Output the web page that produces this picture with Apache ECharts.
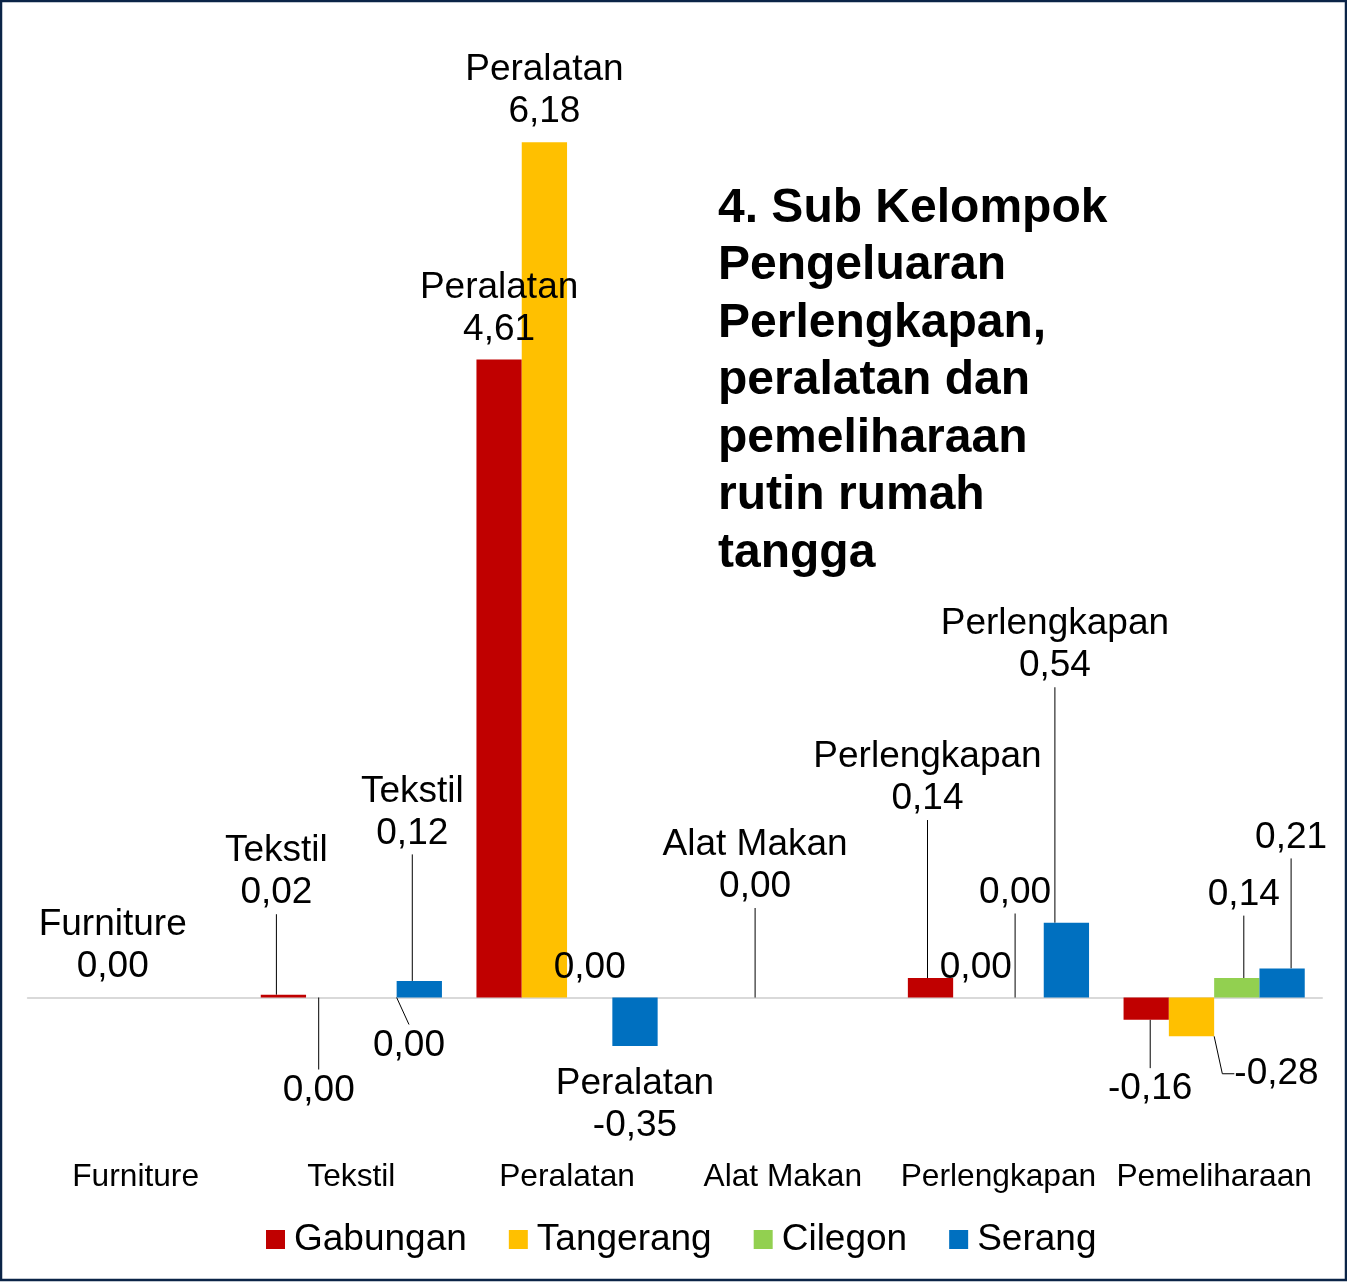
<!DOCTYPE html>
<html><head><meta charset="utf-8">
<script src="https://cdn.jsdelivr.net/npm/echarts@6/dist/echarts.min.js"></script>
<style>html,body{margin:0;padding:0;background:#fff}#c{width:1347px;height:1282px}</style>
</head><body><div id="c"></div>
<script>
const categories = ['Furniture', 'Tekstil', 'Peralatan', 'Alat Makan', 'Perlengkapan', 'Pemeliharaan'];
const seriesNames = ['Gabungan', 'Tangerang', 'Cilegon', 'Serang'];
const gabungan = [0.00, 0.02, 4.61, 0.00, 0.14, -0.16];
const tangerang = [0.00, 0.00, 6.18, 0.00, 0.00, -0.28];
const cilegon = [0.00, 0.00, 0.00, 0.00, 0.00, 0.14];
const serang = [0.00, 0.12, -0.35, 0.00, 0.54, 0.21];
// label content: 'cv' = category + value, 'v' = value only, '' = no label
const labelGabungan = ['cv', 'cv', 'cv', '', 'cv', 'v'];
const labelTangerang = ['', 'v', 'cv', 'cv', 'v', 'v'];
const labelCilegon = ['', 'v', 'v', '', 'v', 'v'];
const labelSerang = ['', 'cv', 'cv', '', 'cv', 'v'];
const titleText = '4. Sub Kelompok\nPengeluaran\nPerlengkapan,\nperalatan dan\npemeliharaan\nrutin rumah\ntangga';

const FONT = '"Liberation Sans", Arial, Helvetica, sans-serif';
const colors = ['#C00000', '#FFC000', '#92D050', '#0070C0'];
const values = [gabungan, tangerang, cilegon, serang];
const kinds = [labelGabungan, labelTangerang, labelCilegon, labelSerang];
// label placement style: [dx, dy, showLeaderLine, length2] relative to bar end
const labelPos = [
  [[45, -54, 0], [-7, -125, 1], [0, -53.5, 0], null, [-3, -202.6, 1], [4, 67, 1]],
  [null, [-10, 90.5, 1], [0, -54, 0], [-5, -134, 1], [0, -32.5, 0], [85, 35, 1, 12]],
  [null, [35, 45.5, 1], [0, -32.5, 0], null, [-6, -107.5, 1], [7, -86, 1]],
  [null, [-7, -171, 1], [0, 56, 0], null, [-11.5, -280, 1], [9, -133.5, 1]]
];
const LABEL_SHIFT_Y = 2.5;

function fmt(v) { return v.toFixed(2).replace('.', ','); }

const series = seriesNames.map(function (name, s) {
  return {
    name: name,
    type: 'bar',
    xAxisIndex: 0,
    barGap: '0%',
    barCategoryGap: '16%',
    itemStyle: { color: colors[s] },
    data: values[s].map(function (v, c) {
      const k = kinds[s][c];
      const pos = labelPos[s][c];
      return {
        value: v,
        label: {
          show: !!k,
          formatter: k === 'cv' ? categories[c] + '\n' + fmt(v) : fmt(v)
        },
        labelLine: {
          show: !!(pos && pos[2]),
          length2: pos && pos[3] ? pos[3] : 0,
          smooth: false,
          lineStyle: { color: '#000', width: 1 }
        }
      };
    }),
    label: {
      show: true,
      fontSize: 37,
      lineHeight: 42,
      color: '#000',
      fontFamily: FONT
    },
    labelLayout: function (p) {
      const cfg = labelPos[p.seriesIndex] && labelPos[p.seriesIndex][p.dataIndex];
      if (!cfg) return {};
      const v = values[p.seriesIndex][p.dataIndex];
      const r = p.rect;
      const ax = r.x + r.width / 2;
      const ay = v < 0 ? Math.max(r.y, r.y + r.height) : Math.min(r.y, r.y + r.height);
      return { x: ax + cfg[0], y: ay + cfg[1] + LABEL_SHIFT_Y, align: 'center', verticalAlign: 'middle' };
    }
  };
});

const chart = echarts.init(document.getElementById('c'), null, { renderer: 'canvas' });
chart.setOption({
  animation: false,
  backgroundColor: '#fff',
  color: colors,
  title: {
    text: titleText,
    left: 718,
    top: 180,
    padding: 0,
    textStyle: { fontSize: 48, fontWeight: 'bold', lineHeight: 57.5, color: '#000', fontFamily: FONT }
  },
  legend: {
    data: seriesNames,
    left: 266,
    top: 1221,
    icon: 'rect',
    itemWidth: 19,
    itemHeight: 19,
    itemGap: 42,
    padding: 0,
    textStyle: { fontSize: 37, color: '#000', fontFamily: FONT, padding: [0, 0, 0, 4] }
  },
  grid: { left: 27.8, right: 25, top: 28.7, bottom: 146.1, outerBoundsMode: 'none' },
  xAxis: [
    {
      type: 'category', data: categories, position: 'bottom',
      axisLine: { show: true, onZero: true, lineStyle: { color: '#D9D9D9', width: 2 } },
      axisTick: { show: false }, axisLabel: { show: false }, splitLine: { show: false }
    },
    {
      type: 'category', data: categories, position: 'bottom',
      axisLine: { show: false, onZero: false }, axisTick: { show: false }, splitLine: { show: false },
      axisLabel: { show: true, fontSize: 31.7, color: '#000', margin: 25, fontFamily: FONT, interval: 0 }
    }
  ],
  yAxis: { type: 'value', min: -1, max: 7, show: false, splitLine: { show: false } },
  graphic: [{
    type: 'rect', silent: true, z: 100,
    shape: { x: 1, y: 1, width: 1345, height: 1279 },
    style: { fill: 'none', stroke: '#0B2447', lineWidth: 2.5 }
  }],
  series: series
});
</script></body></html>
